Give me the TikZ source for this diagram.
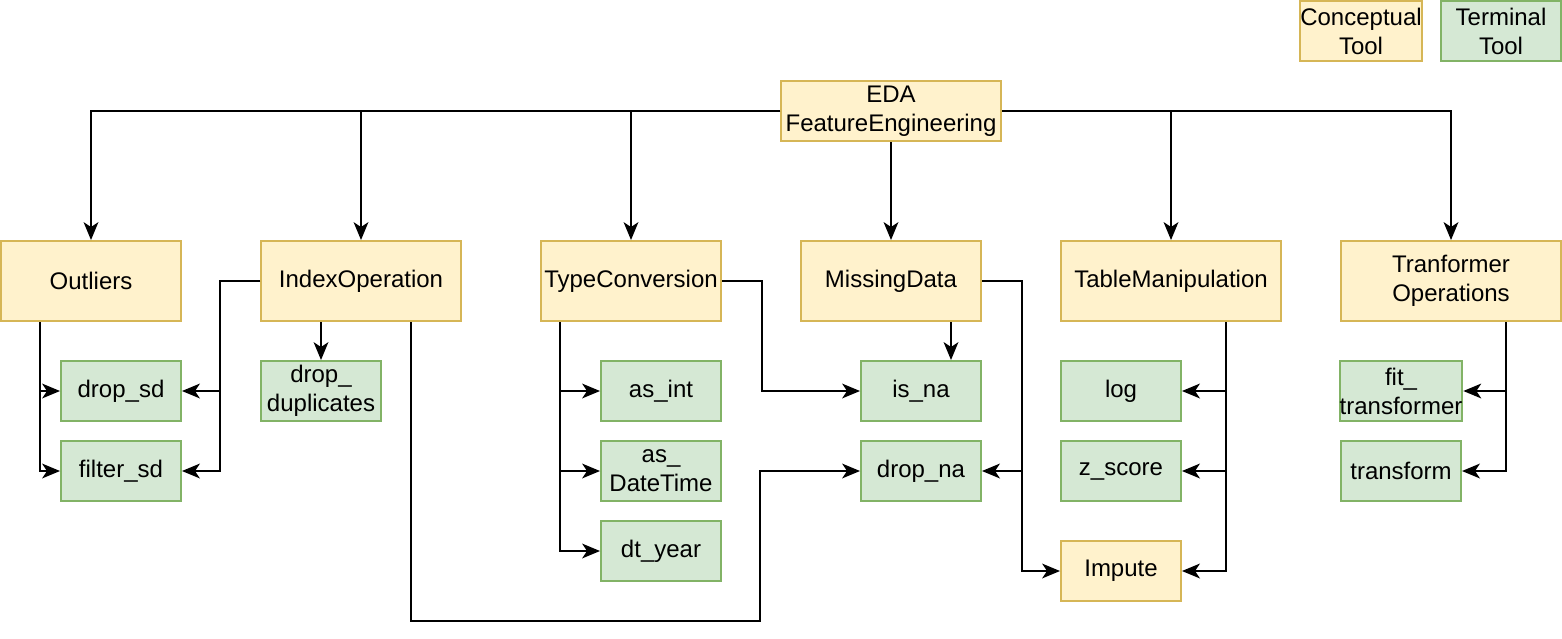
\documentclass[tikz,border=0pt]{standalone}
\usepackage{fontspec}
\setmainfont{Liberation Sans}
\usetikzlibrary{arrows.meta,calc}
\definecolor{yfill}{HTML}{FFF2CC}
\definecolor{ydraw}{HTML}{D6B656}
\definecolor{gfill}{HTML}{D5E8D4}
\definecolor{gdraw}{HTML}{82B366}
\begin{document}
\begin{tikzpicture}[x=1pt,y=-1pt,
  base/.style={draw,line width=2pt,inner sep=0pt,align=center,font=\fontsize{24}{29}\selectfont},
  concept/.style={base,fill=yfill,draw=ydraw},
  terminal/.style={base,fill=gfill,draw=gdraw},
  tipstyle/.tip={Stealth[length=18pt,width=15pt,inset=5pt,line width=0pt]},
  arr/.style={line width=2pt,-tipstyle}]
\useasboundingbox (0,0) rectangle (1562,638);
% legend
\node[concept,minimum width=120,minimum height=60] (lc) at (1361,31) {Conceptual\\Tool};
\node[terminal,minimum width=120,minimum height=60] (lt) at (1501,31) {Terminal\\Tool};
% root
\node[concept,minimum width=220,minimum height=60] (eda) at (891,111) {EDA\\FeatureEngineering};
% top row
\node[concept,minimum width=180,minimum height=80] (out) at (91,281) {Outliers};
\node[concept,minimum width=200,minimum height=80] (idx) at (361,281) {IndexOperation};
\node[concept,minimum width=180,minimum height=80] (tc) at (631,281) {TypeConversion};
\node[concept,minimum width=180,minimum height=80] (md) at (891,281) {MissingData};
\node[concept,minimum width=220,minimum height=80] (tm) at (1171,281) {TableManipulation};
\node[concept,minimum width=220,minimum height=80] (tr) at (1451,281) {Tranformer\\Operations};
% leaves
\node[terminal,minimum width=120,minimum height=60] (dropsd) at (121,391) {drop\_sd};
\node[terminal,minimum width=120,minimum height=60] (filtersd) at (121,471) {filter\_sd};
\node[terminal,minimum width=120,minimum height=60] (dd) at (321,391) {drop\_\\duplicates};
\node[terminal,minimum width=120,minimum height=60] (asint) at (661,391) {as\_int};
\node[terminal,minimum width=120,minimum height=60] (asdt) at (661,471) {as\_\\DateTime};
\node[terminal,minimum width=120,minimum height=60] (dty) at (661,551) {dt\_year};
\node[terminal,minimum width=120,minimum height=60] (isna) at (921,391) {is\_na};
\node[terminal,minimum width=120,minimum height=60] (dropna) at (921,471) {drop\_na};
\node[terminal,minimum width=120,minimum height=60] (log) at (1121,391) {log};
\node[terminal,minimum width=120,minimum height=60] (zs) at (1121,471) {z\_score};
\node[concept,minimum width=120,minimum height=60] (imp) at (1121,571) {Impute};
\node[terminal,minimum width=120,minimum height=60] (fit) at (1401,391) {fit\_\\transformer};
\node[terminal,minimum width=120,minimum height=60] (tf) at (1401,471) {transform};
% root edges
\draw[arr] (eda.west) -| (out.north);
\draw[arr] (eda.west) -| (idx.north);
\draw[arr] (eda.west) -| (tc.north);
\draw[arr] (eda.south) -- (md.north);
\draw[arr] (eda.east) -| (tm.north);
\draw[arr] (eda.east) -| (tr.north);
% outliers
\draw[arr] ($(out.south west)+(40,0)$) |- (dropsd.west);
\draw[arr] ($(out.south west)+(40,0)$) |- (filtersd.west);
% index operation
\draw[arr] (idx.west) -- ++(-40,0) |- (dropsd.east);
\draw[arr] (idx.west) -- ++(-40,0) |- (filtersd.east);
\draw[arr] (dd.north |- idx.south) -- (dd.north);
\draw[arr] ($(idx.south)+(50,0)$) |- ($(dropna.west)+(-100,150)$) |- (dropna.west);
% type conversion
\draw[arr] ($(tc.south west)+(20,0)$) |- (asint.west);
\draw[arr] ($(tc.south west)+(20,0)$) |- (asdt.west);
\draw[arr] ($(tc.south west)+(20,0)$) |- (dty.west);
\draw[arr] (tc.east) -- ++(40,0) |- (isna.west);
% missing data
\draw[arr] ($(md.south)+(60,0)$) -- ($(isna.north)+(30,0)$);
\draw[arr] (md.east) -- ++(40,0) |- (dropna.east);
\draw[arr] (md.east) -- ++(40,0) |- (imp.west);
% table manipulation
\draw[arr] ($(tm.south)+(55,0)$) |- (log.east);
\draw[arr] ($(tm.south)+(55,0)$) |- (zs.east);
\draw[arr] ($(tm.south)+(55,0)$) |- (imp.east);
% transformer
\draw[arr] ($(tr.south)+(55,0)$) |- (fit.east);
\draw[arr] ($(tr.south)+(55,0)$) |- (tf.east);
\end{tikzpicture}
\end{document}
